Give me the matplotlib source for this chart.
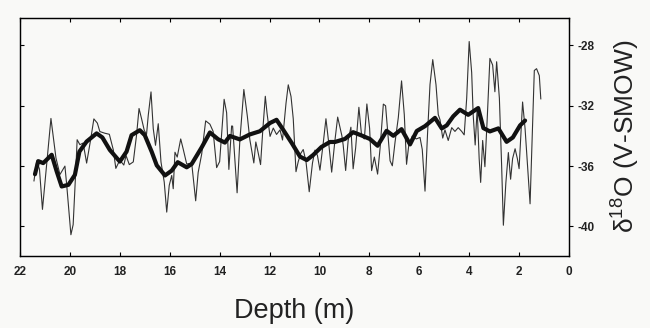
import matplotlib
matplotlib.use("Agg")
import matplotlib.pyplot as plt

plt.rcParams['font.family'] = ['Liberation Sans', 'DejaVu Sans']
plt.rcParams['mathtext.fontset'] = 'custom'
plt.rcParams['mathtext.rm'] = 'Liberation Sans'

# raw d18O record (thin line)
depth_raw = [21.44, 21.33, 21.22, 21.1, 20.76, 20.56, 20.4, 20.2, 20.13, 19.96, 19.87, 19.76,
             19.71, 19.6, 19.47, 19.33, 19.17, 19.04, 18.9, 18.8, 18.6, 18.42, 18.26, 18.16,
             18.0, 17.84, 17.75, 17.62, 17.46, 17.33, 17.23, 17.13, 17.02, 16.93, 16.86, 16.75,
             16.66, 16.57, 16.46, 16.35, 16.22, 16.12, 16.02, 15.92, 15.86, 15.79, 15.7, 15.56,
             15.46, 15.32, 15.12, 14.96, 14.86, 14.72, 14.56, 14.39, 14.26, 14.12, 14.0, 13.82,
             13.72, 13.63, 13.52, 13.48, 13.39, 13.3, 13.19, 13.03, 12.89, 12.79, 12.63, 12.55,
             12.47, 12.36, 12.27, 12.17, 12.1, 11.98, 11.85, 11.72, 11.58, 11.48, 11.34, 11.25,
             11.14, 11.05, 10.94, 10.85, 10.75, 10.65, 10.54, 10.41, 10.28, 10.18, 10.08, 9.98,
             9.85, 9.74, 9.64, 9.51, 9.38, 9.27, 9.18, 9.1, 9.05, 8.95, 8.85, 8.74, 8.65, 8.55,
             8.42, 8.31, 8.2, 8.1, 7.99, 7.91, 7.8, 7.67, 7.57, 7.44, 7.35, 7.27, 7.17, 7.08,
             6.97, 6.84, 6.71, 6.6, 6.51, 6.42, 6.28, 6.12, 5.97, 5.88, 5.77, 5.67, 5.57, 5.46,
             5.33, 5.24, 5.17, 5.06, 4.97, 4.84, 4.7, 4.57, 4.44, 4.3, 4.2, 4.1, 4.0, 3.9, 3.84,
             3.76, 3.68, 3.6, 3.54, 3.46, 3.37, 3.27, 3.17, 3.06, 2.97, 2.9, 2.79, 2.7, 2.63,
             2.53, 2.43, 2.34, 2.26, 2.16, 2.07, 2.0, 1.92, 1.86, 1.8, 1.76, 1.56, 1.39, 1.3,
             1.19, 1.13]
d18o_raw = [-36.98, -35.66, -36.2, -38.87, -32.84, -35.45, -36.56, -36.0, -37.22, -40.55, -39.88, -36.12,
            -34.25, -34.58, -34.47, -35.8, -34.25, -32.87, -33.15, -33.71, -33.82, -33.89, -34.93, -36.15,
            -35.6, -35.93, -35.3, -35.9, -35.72, -33.95, -32.18, -32.85, -33.63, -33.9, -32.63, -31.08,
            -33.52, -34.62, -33.19, -35.73, -37.06, -39.05, -37.28, -36.62, -37.5, -35.08, -35.4, -34.2,
            -34.87, -35.86, -35.8, -38.3, -36.42, -35.21, -33.0, -33.22, -33.7, -36.1, -35.7, -31.57,
            -32.46, -36.22, -33.34, -33.35, -35.56, -37.77, -34.3, -30.92, -32.69, -34.24, -35.79, -34.4,
            -35.0, -35.9, -33.6, -31.37, -32.5, -34.03, -33.48, -33.9, -33.6, -34.27, -31.83, -30.61,
            -31.38, -32.86, -36.37, -35.7, -35.16, -34.9, -35.7, -37.7, -35.8, -34.94, -35.3, -36.27,
            -34.5, -32.86, -34.3, -36.4, -34.3, -32.75, -33.4, -34.0, -34.6, -36.29, -34.3, -33.42, -36.18, -34.8,
            -32.1, -34.0, -34.2, -31.88, -33.5, -36.3, -35.4, -36.53, -34.8, -31.89, -32.0, -33.6, -35.65, -35.98,
            -34.4, -32.78, -30.35, -32.6, -35.88, -34.6, -34.0, -34.2, -34.1, -34.9, -37.66, -33.9, -30.59, -28.94,
            -30.6, -32.58, -32.92, -34.14, -33.6, -34.3, -33.45, -33.7, -33.45, -33.7, -33.93, -31.5, -27.74, -29.8, -32.6,
            -34.6, -32.2, -35.5, -37.08, -34.3, -36.04, -32.6, -28.86, -29.3, -31.07, -29.08, -31.5, -35.95, -39.92,
            -37.1, -35.1, -36.87, -35.5, -34.85, -35.5, -36.17, -33.7, -31.75, -32.85, -33.52, -38.5, -29.66, -29.54,
            -30.0, -31.54]

# smoothed record (thick line)
depth_smooth = [21.4, 21.27, 21.07, 20.73, 20.53, 20.33, 20.06, 19.8, 19.62, 19.33, 18.93, 18.7,
                18.4, 18.0, 17.73, 17.53, 17.2, 17.0, 16.72, 16.52, 16.19, 15.92, 15.68, 15.32,
                15.12, 14.72, 14.39, 14.06, 13.79, 13.59, 13.19, 12.79, 12.39, 11.98, 11.72, 11.45,
                11.11, 10.78, 10.51, 10.25, 9.92, 9.58, 9.38, 8.98, 8.65, 8.31, 7.98, 7.67, 7.31,
                7.04, 6.71, 6.37, 6.1, 5.77, 5.37, 5.1, 4.9, 4.64, 4.37, 4.04, 3.64, 3.43, 3.17,
                2.83, 2.5, 2.25, 1.96, 1.76]
d18o_smooth = [-36.54, -35.67, -35.8, -35.25, -36.35, -37.35, -37.24, -36.58, -35.04, -34.37, -33.83, -34.1,
               -34.93, -35.7, -35.04, -33.95, -33.62, -33.95, -35.06, -35.95, -36.62, -36.3, -35.74, -36.08,
               -35.86, -34.76, -33.77, -34.22, -34.44, -34.0, -34.23, -33.9, -33.69, -33.14, -32.93, -33.6,
               -34.47, -35.37, -35.6, -35.26, -34.73, -34.4, -34.4, -34.2, -33.75, -33.97, -34.2, -34.65, -33.66,
               -33.99, -33.55, -34.56, -33.67, -33.35, -32.8, -33.5, -33.3, -32.7, -32.26, -32.6, -32.15, -33.48, -33.7,
               -33.5, -34.39, -34.1, -33.3, -32.98]

x_ticks = [22, 20, 18, 16, 14, 12, 10, 8, 6, 4, 2, 0]
y_ticks = [-40, -36, -32, -28]

bg = '#f9f9f7'
fig = plt.figure(figsize=(6.5, 3.28), dpi=100, facecolor=bg)
ax = fig.add_axes([20 / 650, 1 - 256 / 328, 549 / 650, 238 / 328])
ax.set_facecolor(bg)

ax.plot(depth_raw, d18o_raw, color='#333333', lw=0.8)
ax.plot(depth_smooth, d18o_smooth, color='#111111', lw=3.0, solid_capstyle='round',
        solid_joinstyle='round')

ax.set_xlim(22, 0)
ax.set_ylim(-41.96, -26.18)
ax.set_xticks(x_ticks)
ax.set_xticklabels([str(t) for t in x_ticks], fontsize=8.5, fontweight='bold', color='#222222')
ax.tick_params(axis='x', direction='in', top=True, length=3, width=0.8, pad=7)
ax.set_yticks(y_ticks)
ax.tick_params(axis='y', direction='in', left=True, right=False, labelleft=False, length=3, width=0.8)
for s in ax.spines.values():
    s.set_linewidth(1.0)
    s.set_color('#222222')

ax2 = ax.twinx()
ax2.set_ylim(ax.get_ylim())
ax2.set_yticks(y_ticks)
ax2.set_yticklabels([str(t) for t in y_ticks], fontsize=8.5, fontweight='bold', color='#222222')
ax2.tick_params(axis='y', direction='out', length=3, width=0.8, pad=3)

fig.text(294 / 650, 1 - 311 / 328, 'Depth (m)', fontsize=19.5, ha='center', va='center', color='#222222')
fig.text(625 / 650, 1 - 136 / 328, r'δ$^{18}$O (V-SMOW)', fontsize=19, rotation=90,
         ha='center', va='center', color='#222222')

fig.savefig('out.png', dpi=100, facecolor=bg)
